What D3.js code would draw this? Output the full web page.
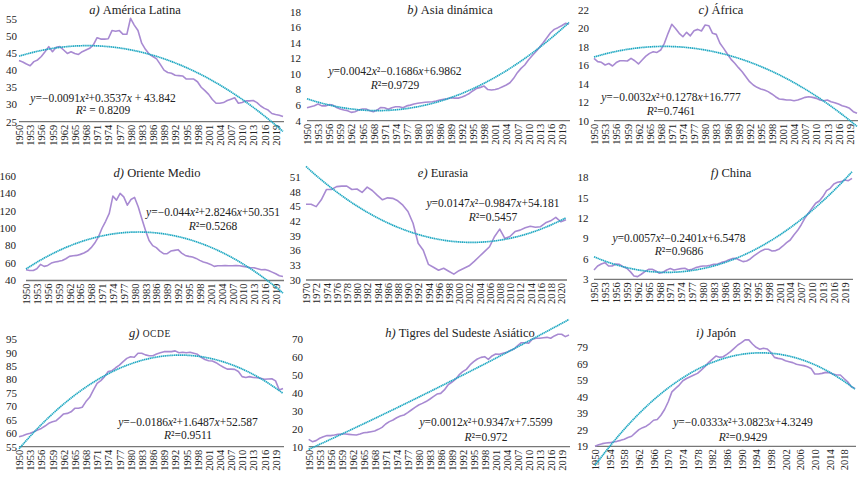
<!DOCTYPE html>
<html>
<head>
<meta charset="utf-8">
<script src="https://cdn.jsdelivr.net/npm/d3@7"></script>
<style>
  body { margin: 0; background: #fff; }
</style>
</head>
<body>
<div id="chart"></div>
<script>
// categories
var years50 = [1950,1951,1952,1953,1954,1955,1956,1957,1958,1959,1960,1961,1962,1963,1964,1965,1966,1967,1968,1969,
  1970,1971,1972,1973,1974,1975,1976,1977,1978,1979,1980,1981,1982,1983,1984,1985,1986,1987,1988,1989,
  1990,1991,1992,1993,1994,1995,1996,1997,1998,1999,2000,2001,2002,2003,2004,2005,2006,2007,2008,2009,
  2010,2011,2012,2013,2014,2015,2016,2017,2018,2019,2020,2021];
var years70 = [1970,1971,1972,1973,1974,1975,1976,1977,1978,1979,1980,1981,1982,1983,1984,1985,1986,1987,1988,1989,
  1990,1991,1992,1993,1994,1995,1996,1997,1998,1999,2000,2001,2002,2003,2004,2005,2006,2007,2008,2009,
  2010,2011,2012,2013,2014,2015,2016,2017,2018,2019,2020,2021];

// x tick labels
var xTicks3 = [1950,1953,1956,1959,1962,1965,1968,1971,1974,1977,1980,1983,1986,1989,1992,1995,1998,2001,2004,2007,2010,2013,2016,2019];
var xTicks2 = [1970,1972,1974,1976,1978,1980,1982,1984,1986,1988,1990,1992,1994,1996,1998,2000,2002,2004,2006,2008,2010,2012,2014,2016,2018,2020];
var xTicks4 = [1950,1954,1958,1962,1966,1970,1974,1978,1982,1986,1990,1994,1998,2002,2006,2010,2014,2018];

// series values
var latam = [42.9,42.5,41.9,41.4,42.6,43.1,44.1,45.5,47.0,45.5,46.8,47.0,46.0,45.0,45.5,45.0,44.7,45.5,46.0,46.5,
  47.5,49.6,49.2,49.2,49.3,51.7,51.5,51.7,50.6,50.6,55.3,53.3,51.7,48.0,46.2,44.8,44.1,43.4,41.8,40.1,
  39.4,39.2,38.6,38.5,38.4,37.5,37.5,37.5,36.7,35.1,34.1,33.0,31.5,30.4,30.4,30.6,31.2,31.6,32.0,30.4,
  30.6,31.1,31.1,31.2,30.6,29.6,28.9,28.4,27.4,27.1,26.9,26.5];
var asia = [5.67,5.8,5.93,6.14,5.9,5.9,6.06,6.0,5.7,5.5,5.37,5.29,5.07,5.16,5.37,5.5,5.5,5.29,5.16,5.37,
  5.7,5.67,5.46,5.67,5.8,5.8,5.67,5.9,6.0,6.14,6.23,6.31,6.36,6.4,6.44,6.53,6.66,6.74,6.83,6.96,
  6.9,6.9,7.04,7.25,7.5,7.85,8.15,8.28,8.45,8.0,7.94,8.0,8.15,8.37,8.58,8.88,9.44,10.17,10.72,11.15,
  11.79,12.35,12.86,13.42,14.02,14.66,15.3,15.73,15.95,16.2,16.5,16.42];
var africa = [16.76,16.4,16.33,16.04,16.2,15.93,16.3,16.5,16.5,16.47,16.76,16.5,16.15,16.58,17.0,17.3,17.48,17.4,17.66,18.39,
  19.47,20.45,20.0,19.47,19.1,19.58,19.2,19.76,19.9,19.72,20.37,20.3,19.47,19.36,18.39,17.84,17.23,16.65,16.22,15.75,
  15.31,14.77,14.23,13.87,13.62,13.43,13.33,13.15,12.9,12.6,12.35,12.31,12.24,12.24,12.17,12.24,12.39,12.53,12.6,12.53,
  12.42,12.24,12.17,12.24,12.06,11.95,11.8,11.63,11.52,11.34,10.98,10.8];
var mideast = [52.3,51.5,51.5,53.5,58.5,56.2,57.3,60.0,61.2,62.0,63.0,65.0,67.7,68.5,68.8,70.0,71.5,73.8,77.7,83.0,
  90.0,100.0,108.0,117.0,136.9,132.3,140.0,136.0,126.5,133.0,135.4,124.6,111.0,97.7,86.0,80.0,77.7,73.8,70.8,70.8,
  73.8,74.6,75.4,71.5,68.8,67.7,66.9,65.4,63.1,61.2,60.0,58.5,56.2,56.9,56.9,57.3,56.9,56.9,57.3,56.9,
  56.2,55.4,54.6,54.6,53.5,52.3,52.7,51.5,49.6,47.7,45.4,44.6];
var eurasia = [45.5,45.5,45.0,46.4,48.5,48.5,49.1,49.2,49.2,48.5,48.6,47.9,49.0,48.3,47.3,46.4,46.8,46.7,46.2,45.3,
  44.0,41.6,37.5,36.1,33.2,32.6,32.0,32.4,31.8,31.2,31.9,32.4,32.9,33.8,34.8,35.8,36.8,38.9,40.4,38.5,
  38.9,39.9,40.2,40.7,41.0,40.8,40.9,41.7,42.1,42.8,41.9,42.3];
var china = [4.37,4.96,5.25,5.45,4.96,4.96,5.25,5.2,4.86,4.62,4.13,3.49,3.39,3.74,4.13,4.47,4.47,4.23,3.88,4.03,
  4.37,4.57,4.37,4.47,4.57,4.62,4.37,4.47,4.72,4.86,4.96,4.96,5.06,5.2,5.25,5.45,5.6,5.84,6.04,6.09,
  5.84,5.6,5.7,5.99,6.43,6.82,7.17,7.41,7.41,7.17,7.22,7.46,7.9,8.39,8.78,9.52,10.16,10.99,11.97,12.7,
  13.44,14.18,14.52,15.16,16.04,16.38,17.02,17.26,17.36,17.6,17.5,17.85];
var ocde = [58.7,59.1,59.6,60.0,60.6,61.2,61.8,62.7,63.7,64.3,64.7,65.9,67.2,67.4,68.0,69.3,69.3,69.7,71.8,73.4,
  76.1,78.6,79.6,81.1,83.0,83.3,84.4,85.4,86.7,87.9,88.5,88.3,89.8,89.8,89.2,88.9,88.9,89.5,90.0,90.4,
  90.4,90.4,90.7,90.0,90.2,90.0,90.2,89.8,89.4,88.3,87.5,87.0,86.9,86.3,85.4,84.6,83.9,83.9,83.8,83.0,
  81.1,80.8,81.1,80.8,80.7,80.5,80.1,80.2,80.3,79.5,76.1,76.7];
var tigres = [14.1,12.8,13.4,14.7,15.6,16.2,16.2,16.5,16.9,17.1,17.1,16.9,16.7,16.5,17.1,17.8,18.0,18.4,18.8,19.7,
  20.8,22.7,24.0,24.9,26.2,27.1,27.7,29.0,30.5,32.0,33.3,34.2,35.2,36.5,38.0,39.4,39.8,41.7,44.5,46.0,
  47.6,50.1,51.9,53.2,55.7,57.5,59.0,59.9,60.3,58.8,60.7,61.8,61.6,62.2,62.7,63.7,64.6,66.5,68.1,68.1,
  67.8,70.0,70.6,70.6,70.9,71.1,70.6,71.9,72.8,72.8,71.5,72.4];
var japon = [19.0,20.0,20.6,21.0,21.2,21.6,22.0,22.6,23.3,24.3,25.1,27.1,29.1,30.3,31.2,32.8,34.8,35.2,37.8,41.3,
  46.0,52.0,54.1,56.1,58.7,60.1,61.2,62.2,63.2,65.2,67.2,69.7,71.7,73.7,72.9,73.3,74.7,76.4,78.4,80.4,
  81.8,83.5,83.5,81.0,79.0,77.8,78.4,78.0,76.0,72.9,72.3,71.9,70.9,70.3,69.7,68.7,68.3,67.9,67.2,66.2,
  62.8,62.8,63.2,63.8,63.6,62.8,62.2,62.2,60.1,58.1,55.1,54.1];

// y tick labels
var yTicksA = [25,30,35,40,45,50,55];
var yTicksB = [4,6,8,10,12,14,16,18];
var yTicksC = [10,12,14,16,18,20,22];
var yTicksD = [40,60,80,100,120,140,160];
var yTicksE = [30,33,36,39,42,45,48,51];
var yTicksF = [3,6,9,12,15,18];
var yTicksG = [55,60,65,70,75,80,85,90,95];
var yTicksH = [10,20,30,40,50,60,70];
var yTicksI = [19,29,39,49,59,69,79];

// trend coefficients (x^2, x, const)
var coefA = [-0.0091, 0.3537, 43.842];
var coefB = [0.0042, -0.1686, 6.9862];
var coefC = [-0.0032, 0.1278, 16.777];
var coefD = [-0.044, 2.8246, 50.351];
var coefE = [0.0147, -0.9847, 54.181];
var coefF = [0.0057, -0.2401, 6.5478];
var coefG = [-0.0186, 1.6487, 52.587];
var coefH = [0.0012, 0.9347, 7.5599];
var coefI = [-0.0333, 3.0823, 4.3249];

var purple = "#a88ad2";
var teal = "#1fa8c2";
var serif = "'Liberation Serif', 'DejaVu Serif', serif";

var svg = d3.select("#chart").append("svg")
  .attr("width", 864)
  .attr("height", 483)
  .attr("font-family", serif);

// panel layout
var panels = [
  {tag: "a)", name: "América Latina", years: years50, vals: latam, xt: xTicks3, yt: yTicksA, coef: coefA,
   eq: "y=−0.0091x²+0.3537x + 43.842", r2: "R² = 0.8209",
   x0: 19, x1: 283, yb: 121.7, ytp: 19.3, lx: 17, tx: 135, ty: 14, ex: 103, ey: 101.5, ry: 114},
  {tag: "b)", name: "Asia dinámica", years: years50, vals: asia, xt: xTicks3, yt: yTicksB, coef: coefB,
   eq: "y=0.0042x²−0.1686x+6.9862", r2: "R²=0.9729",
   x0: 307, x1: 569, yb: 120.7, ytp: 11.7, lx: 301, tx: 450, ty: 14, ex: 395, ey: 75, ry: 89},
  {tag: "c)", name: "África", years: years50, vals: africa, xt: xTicks3, yt: yTicksC, coef: coefC,
   eq: "y=−0.0032x²+0.1278x+16.777", r2: "R²=0.7461",
   x0: 594, x1: 857, yb: 120.7, ytp: 10, lx: 589, tx: 721, ty: 14, ex: 671, ey: 101, ry: 115},
  {tag: "d)", name: "Oriente Medio", years: years50, vals: mideast, xt: xTicks3, yt: yTicksD, coef: coefD,
   eq: "y=−0.044x²+2.8246x+50.351", r2: "R²=0.5268",
   x0: 26, x1: 283, yb: 280.5, ytp: 176, lx: 16, tx: 157, ty: 177, ex: 213, ey: 215.5, ry: 230},
  {tag: "e)", name: "Eurasia", years: years70, vals: eurasia, xt: xTicks2, yt: yTicksE, coef: coefE,
   eq: "y=0.0147x²−0.9847x+54.181", r2: "R²=0.5457",
   x0: 306, x1: 566, yb: 280, ytp: 177.3, lx: 300.7, tx: 443, ty: 177, ex: 493, ey: 206.5, ry: 220.5},
  {tag: "f)", name: "China", years: years50, vals: china, xt: xTicks3, yt: yTicksF, coef: coefF,
   eq: "y=0.0057x²−0.2401x+6.5478", r2: "R²=0.9686",
   x0: 594, x1: 852, yb: 279.3, ytp: 177.3, lx: 588.5, tx: 731, ty: 177, ex: 679, ey: 241.5, ry: 255},
  {tag: "g)", name: "OCDE", sc: true, years: years50, vals: ocde, xt: xTicks3, yt: yTicksG, coef: coefG,
   eq: "y=−0.0186x²+1.6487x+52.587", r2: "R²=0.9511",
   x0: 19, x1: 283, yb: 446.7, ytp: 339.3, lx: 17, tx: 150, ty: 336.5, ex: 188, ey: 425.5, ry: 439},
  {tag: "h)", name: "Tigres del Sudeste Asiático", years: years50, vals: tigres, xt: xTicks3, yt: yTicksH, coef: coefH,
   eq: "y=0.0012x²+0.9347x+7.5599", r2: "R²=0.972",
   x0: 308.7, x1: 569, yb: 446.7, ytp: 339.3, lx: 303, tx: 460, ty: 336.5, ex: 486, ey: 425.5, ry: 440.5},
  {tag: "i)", name: "Japón", years: years50, vals: japon, xt: xTicks4, yt: yTicksI, coef: coefI,
   eq: "y=−0.0333x²+3.0823x+4.3249", r2: "R²=0.9429",
   x0: 595, x1: 855, yb: 446.3, ytp: 347.3, lx: 588, tx: 716, ty: 336.5, ex: 743, ey: 425.5, ry: 441}
];

// writes a label with x, y and R in italics
function mathText(sel, str) {
  str.split("").forEach(function(ch) {
    var t = sel.append("tspan").text(ch);
    if (ch === "x" || ch === "y" || ch === "R") t.attr("font-style", "italic");
  });
}

panels.forEach(function(p) {
  var g = svg.append("g");

  var xScale = d3.scalePoint()
    .domain(p.years)
    .range([p.x0, p.x1]);

  var yScale = d3.scaleLinear()
    .domain([p.yt[0], p.yt[p.yt.length - 1]])
    .range([p.yb, p.ytp]);

  // y labels, no axis line
  g.selectAll(".ylab")
    .data(p.yt)
    .enter()
    .append("text")
    .attr("x", p.lx)
    .attr("y", d => yScale(d) + 3.8)
    .attr("text-anchor", "end")
    .attr("font-size", 11)
    .attr("font-family", serif)
    .attr("fill", "#222")
    .text(d => d);

  // bottom axis
  var bottomAxis = d3.axisBottom(xScale)
    .tickValues(p.xt)
    .tickSize(0)
    .tickPadding(3);

  var ax = g.append("g")
    .attr("transform", `translate(0, ${p.yb})`)
    .call(bottomAxis)
    .attr("font-family", serif);

  ax.select(".domain")
    .attr("d", `M${p.x0},0H${p.x1 + 1}`)
    .attr("stroke", "#777")
    .attr("stroke-width", 1.3);

  ax.selectAll("text")
    .attr("transform", "rotate(-90)")
    .attr("text-anchor", "end")
    .attr("x", -3)
    .attr("y", 0)
    .attr("dy", "0.35em")
    .attr("font-size", 10.5)
    .attr("fill", "#222");

  // data line
  var line = d3.line()
    .x((d, i) => xScale(p.years[i]))
    .y(d => yScale(d));

  g.append("path")
    .datum(p.vals)
    .attr("fill", "none")
    .attr("stroke", purple)
    .attr("stroke-width", 1.6)
    .attr("stroke-linejoin", "round")
    .attr("d", line);

  // polynomial trend from the displayed equation
  var trend = p.years.map(function(yr, i) {
    var x = i + 1;
    return p.coef[0] * x * x + p.coef[1] * x + p.coef[2];
  });

  g.append("path")
    .datum(trend)
    .attr("fill", "none")
    .attr("stroke", teal)
    .attr("stroke-width", 1.7)
    .attr("stroke-dasharray", "1.4,0.5")
    .attr("d", line);

  // title
  var title = g.append("text")
    .attr("x", p.tx)
    .attr("y", p.ty)
    .attr("text-anchor", "middle")
    .attr("font-size", 12.5)
    .attr("font-family", serif)
    .attr("fill", "#222");
  title.append("tspan").attr("font-style", "italic").text(p.tag + " ");
  if (p.sc) {
    title.append("tspan").attr("font-size", 9.5).attr("letter-spacing", 0.6).text(p.name);
  } else {
    title.append("tspan").text(p.name);
  }

  // equation and R²
  var eq = g.append("text")
    .attr("x", p.ex)
    .attr("y", p.ey)
    .attr("text-anchor", "middle")
    .attr("font-size", 11.5)
    .attr("font-family", serif)
    .attr("fill", "#222");
  mathText(eq, p.eq);

  var r2 = g.append("text")
    .attr("x", p.ex)
    .attr("y", p.ry)
    .attr("text-anchor", "middle")
    .attr("font-size", 11.5)
    .attr("font-family", serif)
    .attr("fill", "#222");
  mathText(r2, p.r2);
});
</script>
</body>
</html>
